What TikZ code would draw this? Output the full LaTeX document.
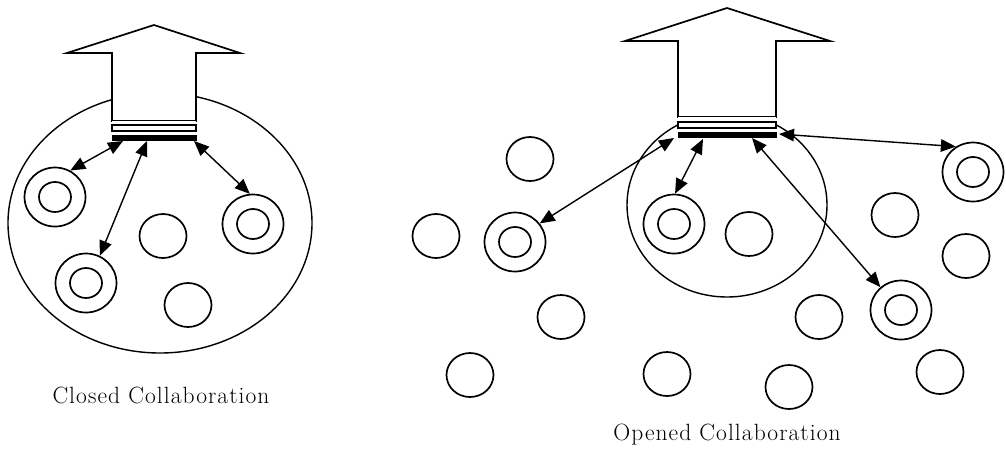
\documentclass[tikz,border=0pt]{standalone}
\usepackage{fontspec}
\newfontfamily\capfont{Latin Modern Roman}[LetterSpace=4.5]
\usetikzlibrary{shapes.geometric,arrows.meta}
\begin{document}
\begin{tikzpicture}[x=1pt,y=-1pt,
  group/.style={ellipse,draw,line width=1.4pt,inner sep=0pt},
  member/.style={ellipse,draw,line width=1.7pt,inner sep=0pt,
    minimum width=47pt,minimum height=44pt},
  agent/.style={ellipse,draw,line width=1.7pt,inner sep=0pt,
    minimum width=61pt,minimum height=59pt,
    path picture={\draw[line width=1.7pt] (path picture bounding box.center)
      ellipse[x radius=16pt,y radius=15pt];}},
  blockarrow/.style={draw,fill=white,line width=1.7pt,line join=miter},
  slot/.style={draw,fill=white,line width=1.2pt},
  plate/.style={draw,fill=black,line width=0.8pt},
  link/.style={line width=1.4pt,
    {Triangle[length=15pt,width=12.5pt]}-{Triangle[length=15pt,width=12.5pt]}},
  caption/.style={font=\capfont\fontsize{23.5}{28}\selectfont,anchor=base,inner sep=0pt}]

\useasboundingbox (0,0) rectangle (1006,451);

% ---------------- closed collaboration ----------------
\node[group,minimum width=304pt,minimum height=260pt] (gL) at (160,223) {};
\node[agent]  (L1) at (55,197) {};
\node[agent]  (L2) at (253,224) {};
\node[agent]  (L3) at (86,283) {};
\node[member] (L4) at (163,236) {};
\node[member] (L5) at (188,305) {};

\draw[blockarrow] (112,121) -- (112,53) -- (67,53) -- (154,25) -- (240,53)
  -- (196,53) -- (196,121) -- cycle;
\fill[white] (112,121) rectangle (196,140);
\draw[slot]  (112,125) rectangle (196,131);
\draw[plate] (112,135) rectangle (196,140);

\coordinate (La) at (123,141);
\coordinate (Lb) at (147,141);
\coordinate (Lc) at (194,141);
\draw[link] (La) -- (L1.60);
\draw[link] (Lb) -- (L3.63);
\draw[link] (Lc) -- (L2.96);

\node[caption] (capL) at (161,403) {Closed Collaboration};

% ---------------- opened collaboration ----------------
\node[group,minimum width=200pt,minimum height=184pt] (gR) at (727,205) {};
\node[agent]  (R1) at (674,224) {};
\node[member] (R2) at (749,234) {};

\node[member] (R3) at (530,159) {};
\node[member] (R4) at (436,236) {};
\node[agent]  (R5) at (515,242) {};
\node[member] (R6) at (561,317) {};
\node[member] (R7) at (470,375) {};
\node[member] (R8) at (667,374) {};
\node[member] (R9) at (789,387) {};
\node[member] (R10) at (819,317) {};
\node[agent]  (R11) at (901,310) {};
\node[member] (R12) at (940,372) {};
\node[member] (R13) at (895,215) {};
\node[member] (R14) at (966,256) {};
\node[agent]  (R15) at (973,172) {};

\draw[blockarrow] (678,117) -- (678,41) -- (625,41) -- (727,8) -- (830,41)
  -- (776,41) -- (776,117) -- cycle;
\fill[white] (678,117) rectangle (776,137);
\draw[slot]  (678,122) rectangle (776,128);
\draw[plate] (678,132) rectangle (776,137);

\coordinate (Ra) at (674,138);
\coordinate (Rb) at (703,139);
\coordinate (Rc) at (752,138);
\coordinate (Rd) at (779,134);
\draw[link] (Ra) -- (R5.37);
\draw[link] (Rb) -- (R1.88);
\draw[link] (Rc) -- (R11.132);
\draw[link] (Rd) -- (R15.124);

\node[caption] (capR) at (727,440) {Opened Collaboration};
\end{tikzpicture}
\end{document}
